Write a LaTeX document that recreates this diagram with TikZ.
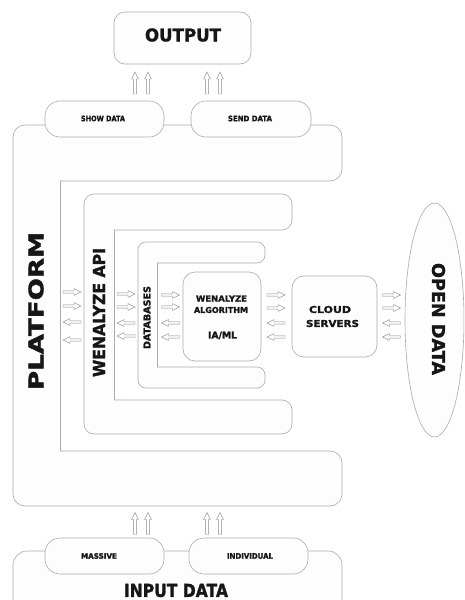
\documentclass[tikz,border=0pt]{standalone}
\usepackage{fontspec}
\setmainfont{DejaVu Sans}
\newfontfamily\heavyfont[FakeBold=1.6]{DejaVu Sans Bold}
\usepackage{graphicx}
\usetikzlibrary{shapes.geometric}
\definecolor{lineg}{HTML}{ABABAB}
\definecolor{arrg}{HTML}{8A8A8A}
\definecolor{textc}{HTML}{161616}
\definecolor{fillc}{HTML}{FDFDFD}
\newcommand{\ft}[3]{\resizebox{#1pt}{#2pt}{\heavyfont #3}}
\tikzset{
  shp/.style={draw=lineg, line width=0.6pt, fill=fillc},
  box/.style={shp, rectangle, rounded corners=#1, inner sep=0pt},
  box/.default=11pt,
  txt/.style={inner sep=0pt, text=textc},
  arr/.style={draw=arrg, line width=0.45pt, fill=white, line join=miter},
  rarr/.pic={\draw[arr] (-9,-1.2) -- (2,-1.2) -- (2,-3.4) -- (9,0) -- (2,3.4) -- (2,1.2) -- (-9,1.2) -- cycle;},
  larr/.pic={\draw[arr] (9,-1.2) -- (-2,-1.2) -- (-2,-3.4) -- (-9,0) -- (-2,3.4) -- (-2,1.2) -- (9,1.2) -- cycle;},
  uarr/.pic={\draw[arr] (-1.3,11) -- (-1.3,-4) -- (-3.4,-4) -- (0,-11) -- (3.4,-4) -- (1.3,-4) -- (1.3,11) -- cycle;}
}
\begin{document}
\begin{tikzpicture}[x=1pt,y=-1pt]
\path[use as bounding box, clip] (0,0) rectangle (464,600);
\fill[white] (0,0) rectangle (464,600);

% PLATFORM C-shape
\fill[fillc, rounded corners=12] (60,181) -- (342,181) -- (342,125) -- (13,125) -- (13,506) -- (342,506) -- (342,451) -- (60,451) -- (60,181);
\draw[draw=lineg, line width=0.6pt, rounded corners=12] (60,181) -- (342,181) -- (342,125) -- (13,125) -- (13,506) -- (342,506) -- (342,451) -- (60,451);
\draw[draw=lineg, line width=0.6pt] (60,451) -- (60,181);

% WENALYZE API C-shape
\fill[fillc, rounded corners=10] (114,230) -- (292,230) -- (292,194) -- (84,194) -- (84,434) -- (292,434) -- (292,400) -- (114,400) -- (114,230);
\draw[draw=lineg, line width=0.6pt, rounded corners=10] (114,230) -- (292,230) -- (292,194) -- (84,194) -- (84,434) -- (292,434) -- (292,400) -- (114,400);
\draw[draw=lineg, line width=0.6pt] (114,400) -- (114,230);

% DATABASES C-shape
\fill[fillc, rounded corners=8] (157,263) -- (265,263) -- (265,242) -- (138,242) -- (138,388) -- (265,388) -- (265,367) -- (157,367) -- (157,263);
\draw[draw=lineg, line width=0.6pt, rounded corners=8] (157,263) -- (265,263) -- (265,242) -- (138,242) -- (138,388) -- (265,388) -- (265,367) -- (157,367);
\draw[draw=lineg, line width=0.6pt] (157,367) -- (157,263);

% boxes
\node[box=12pt, minimum width=78pt, minimum height=89pt] (algo) at (222,316.5) {};
\node[box=12pt, minimum width=85pt, minimum height=81pt] (cloud) at (334.5,316.5) {};
\node[shp, ellipse, minimum width=59pt, minimum height=234pt, inner sep=0pt] (open) at (434.5,320) {};
\node[box=11pt, minimum width=137pt, minimum height=52pt] (output) at (182.5,38) {};
\node[box=14pt, minimum width=329pt, minimum height=80pt] (input) at (177.5,591) {};
\node[box=15pt, minimum width=119pt, minimum height=36pt] (show) at (104.5,119) {};
\node[box=15pt, minimum width=120pt, minimum height=36pt] (send) at (251,119) {};
\node[box=15pt, minimum width=119pt, minimum height=36pt] (massive) at (104.5,556) {};
\node[box=15pt, minimum width=119pt, minimum height=36pt] (indiv) at (248.5,556) {};

% up arrows
\foreach \x in {135,148,207,220} {
  \pic at (\x,83) {uarr};
  \pic at (\x,523.5) {uarr};
}
% horizontal arrows
\foreach \x/\ya/\yb/\yc/\yd in {72/292/306/322/340, 126/294/307/323/336, 170.5/295/307/323/337, 276/295/308/323/337, 391.5/295/308/323/337} {
  \pic at (\x,\ya) {rarr};
  \pic at (\x,\yb) {rarr};
  \pic at (\x,\yc) {larr};
  \pic at (\x,\yd) {larr};
}

% texts
\node[txt] (outputlbl) at (183,35) {\ft{76}{13}{OUTPUT}};
\node[txt] (showlbl) at (103,118.5) {\ft{44}{5.5}{SHOW DATA}};
\node[txt] (sendlbl) at (250,118.5) {\ft{44}{5.5}{SEND DATA}};
\node[txt, rotate=90] (platformlbl) at (36,311) {\ft{158}{15}{PLATFORM}};
\node[txt, rotate=90] (apilbl) at (99,312.5) {\ft{129}{12}{WENALYZE API}};
\node[txt, rotate=90] (dblbl) at (147,317.5) {\ft{63}{7}{DATABASES}};
\node[txt] (algo1) at (221.5,298.5) {\ft{51}{6}{WENALYZE}};
\node[txt] (algo2) at (221,310) {\ft{54}{6}{ALGORITHM}};
\node[txt] (algo3) at (222.5,335.5) {\resizebox{29pt}{!}{\heavyfont IA/ML}};
\node[txt] (cloud1) at (330,309.5) {\ft{42}{7}{CLOUD}};
\node[txt] (cloud2) at (332.5,323.5) {\ft{53}{7}{SERVERS}};
\node[txt, rotate=-90] (openlbl) at (438.5,319) {\ft{112}{13}{OPEN DATA}};
\node[txt] (massivelbl) at (99,556) {\ft{36}{5.5}{MASSIVE}};
\node[txt] (indivlbl) at (250,556) {\ft{46}{5.5}{INDIVIDUAL}};
\node[txt] (inputlbl) at (176,590.5) {\ft{104}{13}{INPUT DATA}};
\end{tikzpicture}
\end{document}
